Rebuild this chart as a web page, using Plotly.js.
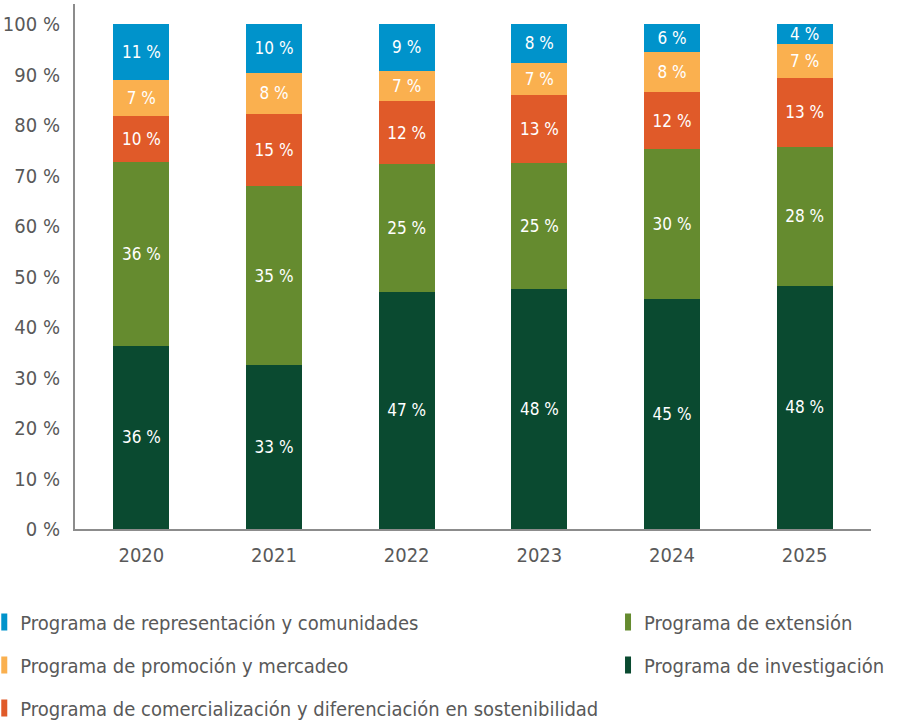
<!DOCTYPE html>
<html>
<head>
<meta charset="utf-8">
<script src="https://cdn.plot.ly/plotly-3.0.1.min.js"></script>
<style>
  html, body { margin: 0; padding: 0; background: #ffffff; }
  #chart { width: 897px; height: 723px; }
</style>
</head>
<body>
<div id="chart"></div>
<script>
// ---- Data ----
const years = ['2020', '2021', '2022', '2023', '2024', '2025'];

// bar heights (%)
const investigacion     = [36.3, 32.5, 47.0, 47.5, 45.5, 48.2];
const extension         = [36.4, 35.4, 25.3, 25.1, 29.7, 27.5];
const comercializacion  = [ 9.2, 14.4, 12.4, 13.3, 11.3, 13.7];
const promocion         = [ 7.1,  8.1,  6.1,  6.5,  7.9,  6.7];
const representacion    = [11.0,  9.6,  9.2,  7.6,  5.6,  4.0];

// printed data labels (%)
const lblInvestigacion    = [36, 33, 47, 48, 45, 48];
const lblExtension        = [36, 35, 25, 25, 30, 28];
const lblComercializacion = [10, 15, 12, 13, 12, 13];
const lblPromocion        = [ 7,  8,  7,  7,  8,  7];
const lblRepresentacion   = [11, 10,  9,  8,  6,  4];

const yTicks = [0, 10, 20, 30, 40, 50, 60, 70, 80, 90, 100];

const FONT = '"DejaVu Sans Condensed", "Liberation Sans Narrow", "Roboto", sans-serif';
const GREY = '#595959';

function bar(name, y, labels, color, legend, rank) {
  return {
    type: 'bar',
    name: name,
    x: years,
    y: y,
    text: labels.map(v => v + ' %'),
    texttemplate: '%{text}',
    textposition: 'inside',
    insidetextanchor: 'middle',
    textangle: 0,
    constraintext: 'none',
    textfont: { family: FONT, size: 17, color: '#ffffff' },
    marker: { color: color, line: { width: 0 } },
    legend: legend,
    legendgroup: name,
    legendrank: rank,
    hoverinfo: 'skip'
  };
}

const data = [
  bar('Programa de investigación', investigacion, lblInvestigacion, '#0A4A30', 'legend2', 2),
  bar('Programa de extensión', extension, lblExtension, '#658B2F', 'legend2', 1),
  bar('Programa de comercialización y diferenciación en sostenibilidad', comercializacion, lblComercializacion, '#E05A29', 'legend', 3),
  bar('Programa de promoción y mercadeo', promocion, lblPromocion, '#FAB04F', 'legend', 2),
  bar('Programa de representación y comunidades', representacion, lblRepresentacion, '#0093CB', 'legend', 1)
];

const legendCommon = {
  orientation: 'v',
  traceorder: 'grouped',
  tracegroupgap: 14,
  yanchor: 'top',
  xanchor: 'left',
  bgcolor: 'rgba(0,0,0,0)',
  borderwidth: 0,
  font: { family: FONT, size: 20, color: GREY }
};

const layout = {
  width: 897,
  height: 723,
  margin: { l: 75, r: 26, t: 4, b: 194, autoexpand: false },
  paper_bgcolor: '#ffffff',
  plot_bgcolor: '#ffffff',
  barmode: 'stack',
  bargap: 0.58,
  showlegend: true,
  font: { family: FONT, color: GREY },
  xaxis: {
    type: 'category',
    showgrid: false,
    zeroline: false,
    showline: true,
    linecolor: '#8c8c8c',
    linewidth: 2,
    ticks: 'outside',
    ticklen: 7,
    tickcolor: 'rgba(0,0,0,0)',
    tickfont: { family: FONT, size: 20, color: GREY }
  },
  yaxis: {
    range: [0, 104],
    tickvals: yTicks,
    ticktext: yTicks.map(v => v + ' %'),
    showgrid: false,
    zeroline: false,
    showline: true,
    linecolor: '#8c8c8c',
    linewidth: 2,
    ticks: 'outside',
    ticklen: 9,
    tickcolor: 'rgba(0,0,0,0)',
    tickfont: { family: FONT, size: 20, color: GREY }
  },
  legend: Object.assign({}, legendCommon, { x: -0.119, y: -0.14 }),
  legend2: Object.assign({}, legendCommon, { x: 0.6646, y: -0.14 })
};

Plotly.newPlot('chart', data, layout, { displayModeBar: false, staticPlot: true }).then(function (gd) {
  // narrow vertical legend swatches like the reference
  gd.querySelectorAll('.legendpoints path').forEach(function (p) {
    p.setAttribute('d', 'M7,-8.5H1V8.5H7Z');
  });
});
</script>
</body>
</html>
